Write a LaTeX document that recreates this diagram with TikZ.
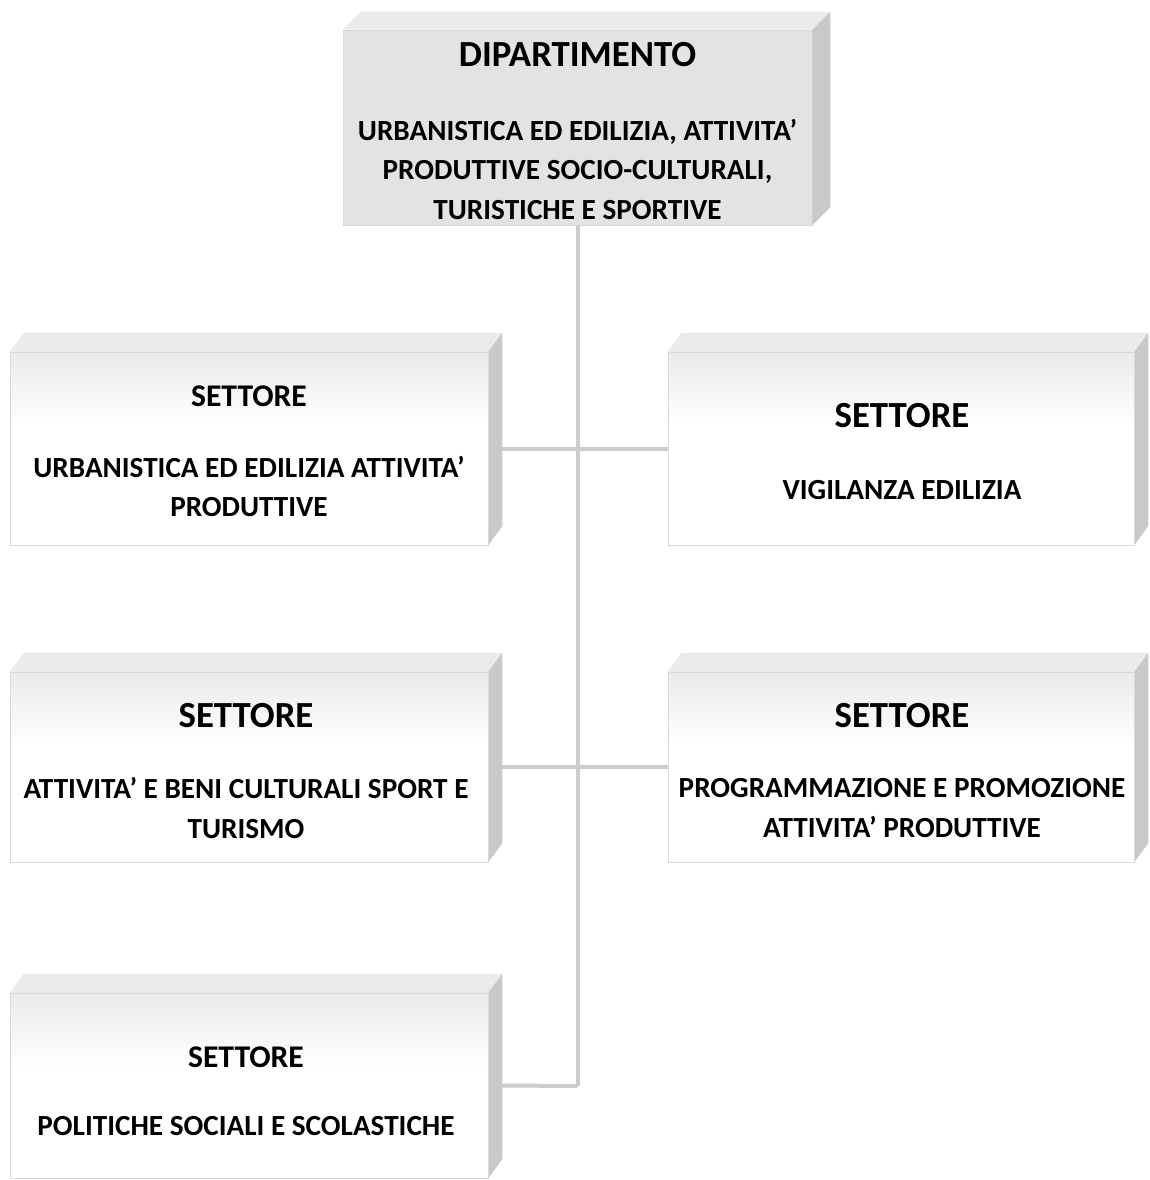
\documentclass[tikz,border=0pt]{standalone}
\usepackage{fontspec}
\setmainfont{Carlito}
\usepackage{tikz}
\tikzset{
  linea/.style={draw=gray!40, line width=4pt},
  fronte/.style={draw=gray!30, line width=0.5pt, fill=white, inner sep=0pt},
  sopra/.style={fill=gray!16},
  lato/.style={fill=gray!42},
  titolo/.style={font=\fontsize{36.8}{44}\selectfont\bfseries, inner sep=0pt},
  titolino/.style={font=\fontsize{31.6}{38}\selectfont\bfseries, inner sep=0pt},
  corpo/.style={font=\fontsize{29.2}{39.5}\selectfont\bfseries, align=center, inner sep=0pt},
}
% facce superiore e laterale del blocco
\newcommand{\cubo}[3]{%
  \fill[sopra] (#1.north west) -- ++(#2,-#3) -- ([shift={(#2,-#3)}]#1.north east) -- (#1.north east) -- cycle;
  \fill[lato] (#1.north east) -- ++(#2,-#3) -- ([shift={(#2,-#3)}]#1.south east) -- (#1.south east) -- cycle;
}
% sfumatura in cima alla faccia frontale
\newcommand{\sfuma}[1]{%
  \shade[top color=gray!16, bottom color=white] ([shift={(0.5,0.5)}]#1.north west) rectangle ([shift={(-0.5,75)}]#1.north east);
  \draw[gray!30, line width=0.5pt] (#1.north west) rectangle (#1.south east);
}

\begin{document}
\begin{tikzpicture}[x=1pt, y=-1pt]
  \useasboundingbox (0,0) rectangle (1149,1180);

  % blocchi
  \node[fronte, fill=gray!22, minimum width=469pt, minimum height=195pt] (dip) at (577.5,127.5) {};
  \node[fronte, minimum width=478pt, minimum height=193pt] (s1) at (249,448.5) {};
  \node[fronte, minimum width=466pt, minimum height=193pt] (s2) at (901,448.5) {};
  \node[fronte, minimum width=478pt, minimum height=190pt] (s3) at (249,767) {};
  \node[fronte, minimum width=466pt, minimum height=190pt] (s4) at (901,767) {};
  \node[fronte, minimum width=478pt, minimum height=185pt] (s5) at (249,1085.5) {};
  \coordinate (fine) at (577.5,1086);

  % collegamenti
  \draw[linea] (dip.south) -- (fine);
  \draw[linea] ([xshift=14pt]s1.east) -- (s2.west);
  \draw[linea] ([xshift=14pt]s3.east) -- (s4.west);
  \draw[linea] ([xshift=14pt]s5.east) -- (fine);

  \cubo{dip}{18}{18}
  \foreach \s in {s1,s2,s3,s4,s5} {
    \cubo{\s}{14}{19}
    \sfuma{\s}
  }

  % testi
  \node[titolo] (tdip) at (577.5,55) {DIPARTIMENTO};
  \node[corpo] (cdip) at (577.5,169) {URBANISTICA ED EDILIZIA, ATTIVITA’\\PRODUTTIVE SOCIO-CULTURALI,\\TURISTICHE E SPORTIVE};
  \node[titolino] (t1) at (249,396) {SETTORE};
  \node[corpo] (c1) at (249,486.5) {URBANISTICA ED EDILIZIA ATTIVITA’\\PRODUTTIVE};
  \node[titolo] (t2) at (902,416) {SETTORE};
  \node[corpo] (c2) at (902,490) {VIGILANZA EDILIZIA};
  \node[titolo] (t3) at (246,716) {SETTORE};
  \node[corpo] (c3) at (246,808) {ATTIVITA’ E BENI CULTURALI SPORT E\\TURISMO};
  \node[titolo] (t4) at (902,716) {SETTORE};
  \node[corpo] (c4) at (902,808) {PROGRAMMAZIONE E PROMOZIONE\\ATTIVITA’ PRODUTTIVE};
  \node[titolino] (t5) at (246,1057) {SETTORE};
  \node[corpo] (c5) at (246,1126) {POLITICHE SOCIALI E SCOLASTICHE};
\end{tikzpicture}
\end{document}
